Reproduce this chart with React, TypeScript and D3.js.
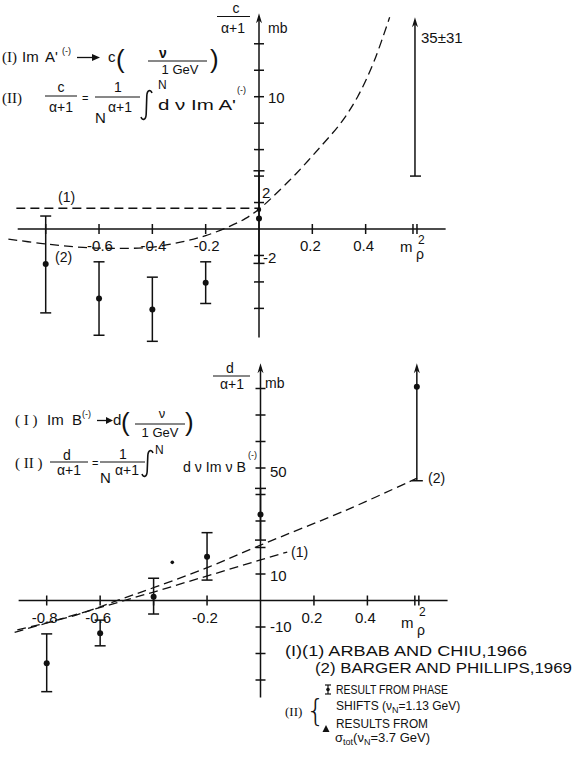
import React, { useEffect, useRef } from 'react';
import * as d3 from 'd3';

const W = 573, H = 770;
const SANS = "'Liberation Sans', Arial, sans-serif";
const SERIF = "'Liberation Serif', 'Times New Roman', serif";
const M_RHO2 = 0.585;

// ---- upper panel: c/(a+1) in mb ----
const topXTicks = [-0.8, -0.6, -0.4, -0.2, 0.2, 0.4];
const topXLabels = ['-0.6', '-0.4', '-0.2', '0.2', '0.4'];
const topYTicks = [14, 12, 10, 8, 6, 4, 2, -2, -4, -6];
const topPtX = [-0.8, -0.6, -0.4, -0.2, 0];
const topPtMid = [-2.65, -5.25, -6.08, -4.07, 0.8];
const topPtHi = [0.98, -2.48, -3.64, -2.48, 4.4];
const topPtLo = [-6.34, -8.03, -8.49, -5.63, -2.6];
const topCurve1 = [[-0.91, 1.57], [0, 1.57]];
const topCurve2 = [
  [-0.94, -0.76], [-0.82, -1.08], [-0.66, -1.39], [-0.54, -1.46], [-0.41, -1.39],
  [-0.29, -0.98], [-0.2, -0.5], [-0.11, 0.2], [-0.05, 0.8], [0, 1.5], [0.05, 2.4],
  [0.14, 4.2], [0.23, 6.2], [0.31, 8.1], [0.37, 10.0], [0.43, 12.6], [0.49, 16.0],
];
const topRhoLow = 4; // 35 - 31, upper end off scale
const topSmallDot = [0, 1.45];

// ---- lower panel: d/(a+1) in mb ----
const botXTicks = [-0.8, -0.6, -0.4, -0.2, 0.2, 0.4];
const botXLabels = ['-0.8', '-0.6', '-0.2', '0.2', '0.4'];
const botYTicks = [80, 70, 60, 50, 40, 30, 20, 10, -10, -20, -30];
const botPtX = [-0.8, -0.6, -0.4, -0.2, 0];
const botPtMid = [-23.7, -12.4, 1.4, 16.5, 32.5];
const botPtHi = [-12.6, -7.4, 8.4, 25.6, 42.3];
const botPtLo = [-34.4, -17.1, -5.1, 7.7, 22.8];
const botCurve1 = [[-0.92, -12.0], [-0.4, 3.2], [0, 15.3], [0.1, 18.3]];
const botCurve2 = [
  [-0.91, -11.1], [-0.69, -5.5], [-0.53, 0.2], [-0.39, 5.2], [-0.19, 12.8],
  [0, 20.9], [0.33, 34.5], [0.586, 46.2],
];
const botRhoMid = 80.7;
const botRhoLow = 45.2;
const botSmallDot = [-0.33, 14.4];

const App = () => {
  const ref = useRef<SVGSVGElement>(null);

  useEffect(() => {
    const svg = d3.select(ref.current);
    svg.selectAll('*').remove();
    const g = svg.append('g').attr('fill', '#111').attr('font-family', SANS);

    const txt = (x: number, y: number, s: string, fs = 15, anchor = 'start', fam = SANS) =>
      g.append('text').attr('x', x).attr('y', y).attr('font-size', fs)
        .attr('text-anchor', anchor).attr('font-family', fam).text(s);
    const hline = (x1: number, x2: number, y: number, w = 1.2) =>
      g.append('line').attr('x1', x1).attr('x2', x2).attr('y1', y).attr('y2', y)
        .attr('stroke', '#111').attr('stroke-width', w);
    const arrowUp = (x: number, y: number) =>
      g.append('path').attr('d', `M${x},${y} L${x - 3},${y + 10} L${x},${y + 7} L${x + 3},${y + 10} Z`)
        .attr('fill', '#111');
    // integral sign drawn as a stroke, x = left, y0/y1 = top/bottom
    const integral = (x: number, y0: number, y1: number) =>
      g.append('path')
        .attr('d', `M${x + 11},${y0 + 3} C${x + 9.5},${y0 - 1} ${x + 6},${y0} ${x + 5.8},${y0 + 6}`
          + ` L${x + 5.2},${y1 - 6} C${x + 5},${y1} ${x + 1.5},${y1 + 1} ${x},${y1 - 3}`)
        .attr('fill', 'none').attr('stroke', '#111').attr('stroke-width', 1.6);

    const panel = (xs: d3.ScaleLinear<number, number>, ys: d3.ScaleLinear<number, number>,
      xExt: number[], yExt: number[], xTicks: number[], yTicks: number[]) => {
      const a = g.append('g').attr('stroke', '#111').attr('stroke-width', 1.5);
      a.append('line').attr('x1', xs(xExt[0])).attr('x2', xs(xExt[1]))
        .attr('y1', ys(0)).attr('y2', ys(0));
      a.append('line').attr('x1', xs(0)).attr('x2', xs(0))
        .attr('y1', ys(yExt[0])).attr('y2', ys(yExt[1]) + 4);
      arrowUp(xs(0), ys(yExt[1]));
      xTicks.forEach(t => a.append('line').attr('x1', xs(t)).attr('x2', xs(t))
        .attr('y1', ys(0) - 5).attr('y2', ys(0) + 5));
      [-2, 2].forEach(d => a.append('line').attr('x1', xs(M_RHO2) + d).attr('x2', xs(M_RHO2) + d)
        .attr('y1', ys(0) - 5).attr('y2', ys(0) + 5));
      yTicks.forEach(t => a.append('line').attr('x1', xs(0) - 5).attr('x2', xs(0) + 5)
        .attr('y1', ys(t)).attr('y2', ys(t)));
    };

    const errBars = (xs: any, ys: any, px: number[], mid: number[], hi: number[], lo: number[]) => {
      const e = g.append('g').attr('stroke', '#111').attr('stroke-width', 1.5);
      px.forEach((x, i) => {
        e.append('line').attr('x1', xs(x)).attr('x2', xs(x)).attr('y1', ys(hi[i])).attr('y2', ys(lo[i]));
        [hi[i], lo[i]].forEach(v => e.append('line').attr('x1', xs(x) - 5.5).attr('x2', xs(x) + 5.5)
          .attr('y1', ys(v)).attr('y2', ys(v)));
        g.append('circle').attr('cx', xs(x)).attr('cy', ys(mid[i])).attr('r', 3);
      });
    };

    const dashed = (xs: any, ys: any, pts: number[][], curve: any) =>
      g.append('path')
        .attr('d', d3.line<number[]>().x(d => xs(d[0])).y(d => ys(d[1])).curve(curve)(pts))
        .attr('fill', 'none').attr('stroke', '#111').attr('stroke-width', 1.3)
        .attr('stroke-dasharray', '9,5');

    // ================= upper panel =================
    const xT = d3.scaleLinear().domain([-0.8, 0]).range([45.7, 259]);
    const yT = d3.scaleLinear().domain([0, 10]).range([229, 96.7]);
    panel(xT, yT, [-0.905, 0.7], [-8.2, 16.3], topXTicks, topYTicks);
    dashed(xT, yT, topCurve1, d3.curveLinear);
    dashed(xT, yT, topCurve2, d3.curveCatmullRom);
    errBars(xT, yT, topPtX, topPtMid, topPtHi, topPtLo);
    g.append('circle').attr('cx', xT(topSmallDot[0])).attr('cy', yT(topSmallDot[1])).attr('r', 2.2);
    // off-scale point at m_rho^2
    g.append('line').attr('x1', xT(M_RHO2)).attr('x2', xT(M_RHO2))
      .attr('y1', yT(topRhoLow)).attr('y2', yT(15.6)).attr('stroke', '#111').attr('stroke-width', 1.5);
    hline(xT(M_RHO2) - 5, xT(M_RHO2) + 6, yT(topRhoLow), 1.5);
    arrowUp(xT(M_RHO2), yT(16.0));
    txt(421, 43, '35±31', 15);

    topXTicks.filter(t => t !== -0.8).forEach((t, i) =>
      txt(xT(t) + (t > 0 ? -2 : 1), 251, topXLabels[i], 15, 'middle'));
    txt(400, 252, 'm', 15); txt(418, 244, '2', 12); txt(416, 259, 'ρ', 14);
    txt(268, 103, '10', 15);
    txt(262, 198, '2', 15);
    txt(263, 263, '-2', 15);
    // y title
    txt(236, 13, 'c', 14, 'middle'); hline(217, 250, 16.5, 1);
    txt(233, 33, 'α+1', 14, 'middle');
    txt(268, 33, 'mb', 14);
    txt(58, 202, '(1)', 14);
    txt(55, 262, '(2)', 14);

    // formulas, upper
    txt(2, 62, '(I)', 15, 'start', SERIF);
    txt(22, 62, 'Im', 15); txt(45, 62, "A'", 15); txt(62, 54, '(-)', 9);
    hline(77, 97, 57.5, 1.3);
    g.append('path').attr('d', 'M100,57.5 L92,54 L92,61 Z');
    txt(108, 62, 'c', 15);
    txt(116, 68, '(', 26); txt(210, 68, ')', 26);
    txt(163, 58, 'ν', 14, 'middle').attr('font-weight', 'bold');
    hline(148, 207, 61, 1);
    txt(180, 74, '1 GeV', 13, 'middle');

    txt(2, 103, '(II)', 15, 'start', SERIF);
    txt(61, 92, 'c', 14, 'middle'); hline(45, 77, 96, 1); txt(61, 112, 'α+1', 14, 'middle');
    txt(82, 102, '=', 11);
    txt(118, 92, '1', 14, 'middle'); hline(95, 140, 97, 1);
    txt(95, 123, 'N', 15); txt(108, 112, 'α+1', 14);
    integral(141, 90, 120);
    txt(158, 89, 'N', 12);
    txt(158, 110, "d ν Im A'", 15).attr('textLength', 78).attr('lengthAdjust', 'spacingAndGlyphs');
    txt(237, 93, '(-)', 9);

    // ================= lower panel =================
    const xB = d3.scaleLinear().domain([-0.8, 0]).range([46.7, 260.5]);
    const yB = d3.scaleLinear().domain([0, 50]).range([600.5, 468]);
    panel(xB, yB, [-0.905, 0.7], [-36.6, 89.5], botXTicks, botYTicks);
    dashed(xB, yB, botCurve1, d3.curveLinear);
    dashed(xB, yB, botCurve2, d3.curveCatmullRom);
    errBars(xB, yB, botPtX, botPtMid, botPtHi, botPtLo);
    g.append('circle').attr('cx', xB(botSmallDot[0])).attr('cy', yB(botSmallDot[1])).attr('r', 1.8);
    g.append('line').attr('x1', xB(M_RHO2)).attr('x2', xB(M_RHO2))
      .attr('y1', yB(botRhoLow)).attr('y2', yB(88)).attr('stroke', '#111').attr('stroke-width', 1.5);
    hline(xB(M_RHO2) - 5, xB(M_RHO2) + 6, yB(botRhoLow), 1.5);
    g.append('circle').attr('cx', xB(M_RHO2)).attr('cy', yB(botRhoMid)).attr('r', 3);
    arrowUp(xB(M_RHO2), yB(89.5));

    const botLabelVals = [-0.8, -0.6, -0.2, 0.2, 0.4];
    botLabelVals.forEach((t, i) => txt(xB(t) - 2, 623, botXLabels[i], 15, 'middle'));
    txt(401, 628, 'm', 15); txt(419, 616, '2', 12); txt(417, 635, 'ρ', 14);
    txt(270, 477, '50', 15);
    txt(270, 581, '10', 15);
    txt(270, 632, '-10', 15);
    txt(230, 373, 'd', 14, 'middle'); hline(213, 250, 376, 1);
    txt(232, 389, 'α+1', 14, 'middle');
    txt(265, 388, 'mb', 14);
    txt(428, 483, '(2)', 14);
    txt(291, 557, '(1)', 14);

    // formulas, lower
    txt(15, 425, '( I )', 15, 'start', SERIF);
    txt(47, 425, 'Im', 15); txt(72, 425, 'B', 15); txt(82, 417, '(-)', 9);
    hline(97, 108, 420.5, 1.3);
    g.append('path').attr('d', 'M113,420.5 L106,417 L106,424 Z');
    txt(113, 425, 'd', 15);
    txt(121, 431, '(', 26); txt(185, 431, ')', 26);
    txt(162, 418, 'ν', 13, 'middle');
    hline(135, 185, 424, 1);
    txt(160, 437, '1 GeV', 13, 'middle');

    txt(15, 468, '( II )', 15, 'start', SERIF);
    txt(67, 460, 'd', 14, 'middle'); hline(50, 88, 462, 1); txt(69, 475, 'α+1', 14, 'middle');
    txt(92, 467, '=', 11);
    txt(123, 459, '1', 14, 'middle'); hline(100, 145, 462, 1);
    txt(100, 483, 'N', 15); txt(115, 475, 'α+1', 14);
    integral(142, 450, 477);
    txt(155, 454, 'N', 12);
    txt(183, 472, 'd ν Im ν B', 15).attr('textLength', 63).attr('lengthAdjust', 'spacingAndGlyphs');
    txt(248, 458, '(-)', 9);

    // legend
    txt(285, 656, '(I)(1) ARBAB AND CHIU,1966', 14).attr('textLength', 242).attr('lengthAdjust', 'spacingAndGlyphs');
    txt(315, 673, '(2) BARGER AND PHILLIPS,1969', 14).attr('textLength', 257).attr('lengthAdjust', 'spacingAndGlyphs');
    // phase shift symbol
    const sx = 328;
    g.append('line').attr('x1', sx).attr('x2', sx).attr('y1', 685).attr('y2', 694).attr('stroke', '#111').attr('stroke-width', 1.2);
    hline(sx - 3, sx + 3, 685, 1.2); hline(sx - 3, sx + 3, 694, 1.2);
    g.append('circle').attr('cx', sx).attr('cy', 689.5).attr('r', 1.8);
    txt(336, 694, 'RESULT FROM PHASE', 12).attr('textLength', 112).attr('lengthAdjust', 'spacingAndGlyphs');
    const l4 = txt(336, 710, 'SHIFTS  (ν', 12);
    l4.append('tspan').attr('font-size', 9).attr('dy', 3).text('N');
    l4.append('tspan').attr('dy', -3).text('=1.13 GeV)');
    txt(285, 716, '(II)', 13, 'start', SERIF);
    txt(306, 721, '{', 30, 'start', "'DejaVu Sans', sans-serif").attr('font-weight', 'lighter');
    txt(336, 728, 'RESULTS FROM', 12).attr('textLength', 92).attr('lengthAdjust', 'spacingAndGlyphs');
    g.append('path').attr('d', 'M326,725 L322.5,732 L329.5,732 Z');
    const l6 = txt(335, 742, 'σ', 13);
    l6.append('tspan').attr('font-size', 9).attr('dy', 3).text('tot');
    l6.append('tspan').attr('dy', -3).text('(ν');
    l6.append('tspan').attr('font-size', 9).attr('dy', 3).text('N');
    l6.append('tspan').attr('dy', -3).text('=3.7 GeV)');
  }, []);

  return (
    <svg ref={ref} width={W} height={H}
      style={{ position: 'absolute', left: 0, top: 0, background: '#fff' }} />
  );
};

export default App;
